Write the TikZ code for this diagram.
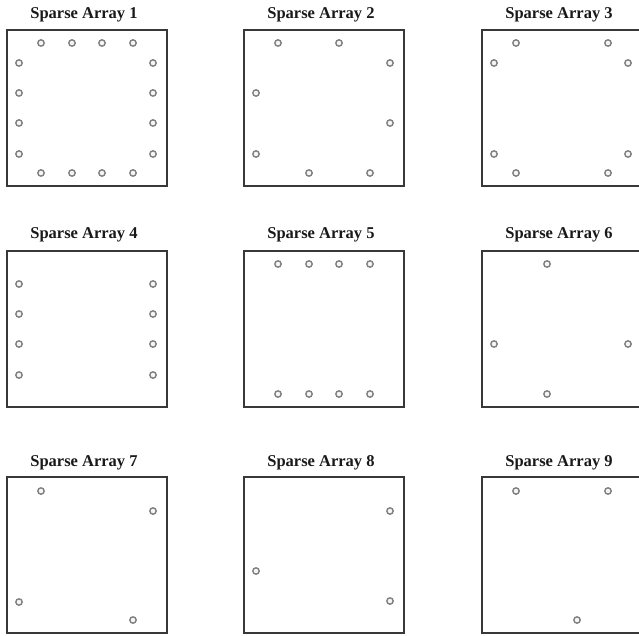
\documentclass[tikz,border=0pt]{standalone}
\usepackage{fontspec}
\setmainfont{Liberation Serif}
\begin{document}
\begin{tikzpicture}[x=1pt,y=-1pt,
  panelbox/.style={draw=black!78, line width=1.8pt, minimum width=160pt, minimum height=156pt, inner sep=0pt, anchor=north west},
  sensor/.style={circle, draw=black!50, fill=black!4, line width=1.4pt, minimum size=6.4pt, inner sep=0pt},
  ttl/.style={font=\fontsize{16.5}{18}\selectfont\bfseries, inner sep=0pt, anchor=base, text=black!90}]
\useasboundingbox (0,0) rectangle (639,636);
% boxes
\node[panelbox] (b1) at (6,29) {};
\node[panelbox] (b2) at (243,29) {};
\node[panelbox] (b3) at (481,29) {};
\node[panelbox] (b4) at (6,250) {};
\node[panelbox] (b5) at (243,250) {};
\node[panelbox] (b6) at (481,250) {};
\node[panelbox] (b7) at (6,476) {};
\node[panelbox] (b8) at (243,476) {};
\node[panelbox] (b9) at (481,476) {};
% titles
\node[ttl] (t1) at (84,18.3) {Sparse Array 1};
\node[ttl] (t2) at (321,18.3) {Sparse Array 2};
\node[ttl] (t3) at (559,18.3) {Sparse Array 3};
\node[ttl] (t4) at (84,238.3) {Sparse Array 4};
\node[ttl] (t5) at (321,238.3) {Sparse Array 5};
\node[ttl] (t6) at (559,238.3) {Sparse Array 6};
\node[ttl] (t7) at (84,466) {Sparse Array 7};
\node[ttl] (t8) at (321,466) {Sparse Array 8};
\node[ttl] (t9) at (559,466) {Sparse Array 9};
% sensors
\foreach \c/\r [count=\i] in {35/14,66/14,96/14,127/14,13/34,13/64,13/94,13/125,147/34,147/64,147/94,147/125,35/144,66/144,96/144,127/144}
  \node[sensor] (s1-\i) at ([shift={(\c,\r)}]b1.north west) {};
\foreach \c/\r [count=\i] in {35/14,96/14,147/34,147/94,13/64,13/125,66/144,127/144}
  \node[sensor] (s2-\i) at ([shift={(\c,\r)}]b2.north west) {};
\foreach \c/\r [count=\i] in {35/14,127/14,13/34,13/125,147/34,147/125,35/144,127/144}
  \node[sensor] (s3-\i) at ([shift={(\c,\r)}]b3.north west) {};
\foreach \c/\r [count=\i] in {13/34,13/64,13/94,13/125,147/34,147/64,147/94,147/125}
  \node[sensor] (s4-\i) at ([shift={(\c,\r)}]b4.north west) {};
\foreach \c/\r [count=\i] in {35/14,66/14,96/14,127/14,35/144,66/144,96/144,127/144}
  \node[sensor] (s5-\i) at ([shift={(\c,\r)}]b5.north west) {};
\foreach \c/\r [count=\i] in {66/14,13/94,147/94,66/144}
  \node[sensor] (s6-\i) at ([shift={(\c,\r)}]b6.north west) {};
\foreach \c/\r [count=\i] in {35/15,147/35,13/126,127/144}
  \node[sensor] (s7-\i) at ([shift={(\c,\r)}]b7.north west) {};
\foreach \c/\r [count=\i] in {147/35,13/95,147/125}
  \node[sensor] (s8-\i) at ([shift={(\c,\r)}]b8.north west) {};
\foreach \c/\r [count=\i] in {35/15,127/15,96/144}
  \node[sensor] (s9-\i) at ([shift={(\c,\r)}]b9.north west) {};
\end{tikzpicture}
\end{document}
